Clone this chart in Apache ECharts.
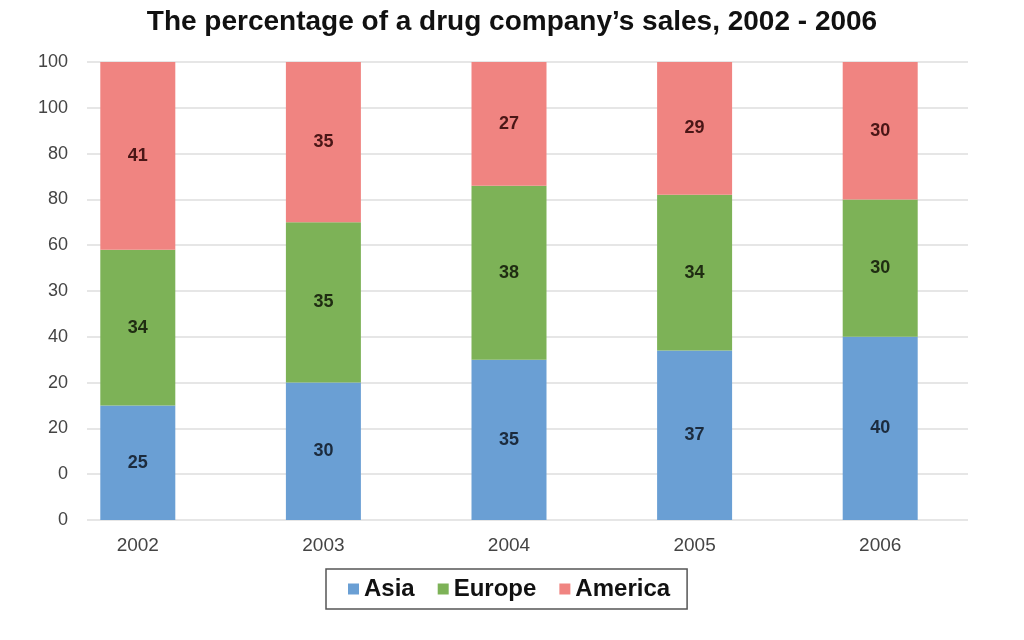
<!DOCTYPE html>
<html>
<head>
<meta charset="utf-8">
<script src="https://cdn.jsdelivr.net/npm/echarts@6/dist/echarts.min.js"></script>
<style>
  html, body { margin: 0; padding: 0; background: #fff; }
  #chart { width: 1024px; height: 640px; }
</style>
</head>
<body>
<div id="chart"></div>
<script>
const years = ["2002", "2003", "2004", "2005", "2006"];
const asia = [25, 30, 35, 37, 40];
const europe = [34, 35, 38, 34, 30];
const america = [41, 35, 27, 29, 30];
// tick labels as printed in the original (bottom to top)
const yTickLabels = ["0", "0", "20", "20", "40", "30", "60", "80", "80", "100", "100"];

const chart = echarts.init(document.getElementById("chart"));

function stackSeries(name, data, color, labelColor) {
  return {
    name: name,
    type: "bar",
    stack: "total",
    xAxisIndex: 1,
    yAxisIndex: 1,
    barWidth: 75,
    data: data,
    itemStyle: { color: color },
    label: {
      show: true,
      position: "inside",
      color: labelColor,
      fontSize: 18,
      fontWeight: "bold",
      fontFamily: "Liberation Sans, Arial, sans-serif"
    }
  };
}

const option = {
  backgroundColor: "#ffffff",
  animation: false,
  title: {
    text: "The percentage of a drug company\u2019s sales, 2002 - 2006",
    left: "center",
    top: 3,
    textStyle: {
      fontFamily: "Liberation Sans, Arial, sans-serif",
      fontSize: 28,
      fontWeight: "bold",
      color: "#111"
    }
  },
  legend: {
    bottom: 31,
    left: 326,
    data: ["Asia", "Europe", "America"],
    icon: "rect",
    itemWidth: 11,
    itemHeight: 11,
    itemGap: 23,
    itemStyle: { borderWidth: 0 },
    borderColor: "#555",
    borderWidth: 1.5,
    borderRadius: 0,
    padding: [8, 17, 8, 22],
    textStyle: {
      fontFamily: "Liberation Sans, Arial, sans-serif",
      fontSize: 24,
      fontWeight: "bold",
      color: "#111"
    }
  },
  grid: [
    { left: 87, right: 56, top: 62, bottom: 120 },
    { left: 45, right: 51, top: 62, bottom: 120 }
  ],
  xAxis: [
    {
      gridIndex: 0,
      type: "category",
      data: years,
      axisLine: { show: false },
      axisTick: { show: false },
      axisLabel: { show: false }
    },
    {
      gridIndex: 1,
      type: "category",
      data: years,
      axisLine: { show: false },
      axisTick: { show: false },
      axisLabel: {
        margin: 16,
        color: "#444",
        fontSize: 19,
        fontFamily: "Liberation Sans, Arial, sans-serif"
      }
    }
  ],
  yAxis: [
    {
      gridIndex: 0,
      type: "value",
      min: 0,
      max: 100,
      interval: 10,
      axisLine: { show: false },
      axisTick: { show: false },
      splitLine: { lineStyle: { color: "#dedede", width: 1.5 } },
      axisLabel: {
        margin: 19,
        color: "#444",
        fontSize: 18,
        fontFamily: "Liberation Sans, Arial, sans-serif",
        formatter: function (v) {
          return yTickLabels[Math.round(v / 10)];
        }
      }
    },
    {
      gridIndex: 1,
      type: "value",
      min: 0,
      max: 100,
      interval: 10,
      show: false,
      splitLine: { show: false }
    }
  ],
  series: [
    stackSeries("Asia", asia, "#6a9fd4", "#1c2b3d"),
    stackSeries("Europe", europe, "#7db257", "#1f2c12"),
    stackSeries("America", america, "#f08481", "#4a1616")
  ]
};

chart.setOption(option);
</script>
</body>
</html>
